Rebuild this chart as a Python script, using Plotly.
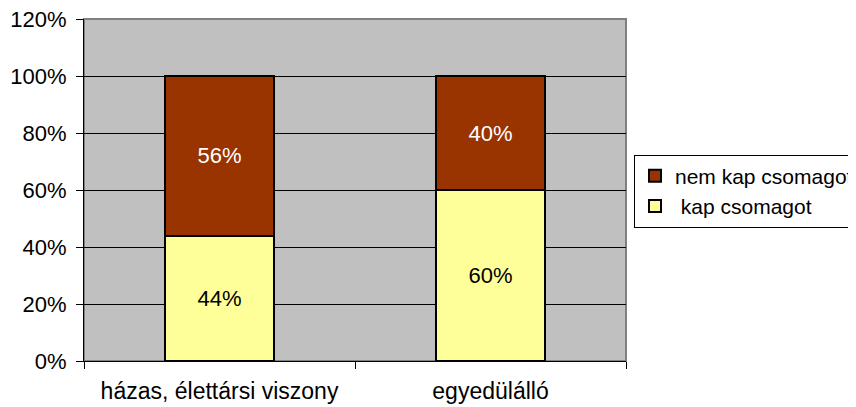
import plotly.graph_objects as go

categories = ["házas, élettársi viszony", "egyedülálló"]
kap = [44, 60]
nem_kap = [56, 40]
series_names = [" kap csomagot", "nem kap csomagot"]
y_ticks = [0, 20, 40, 60, 80, 100, 120]

FONT = "Liberation Sans"

fig = go.Figure()
fig.add_bar(x=categories, y=kap, name=series_names[0], legendrank=2,
            marker=dict(color="#FFFF99", line=dict(color="black", width=2)),
            text=[f"{v}%" for v in kap], textposition="inside",
            insidetextanchor="middle",
            textfont=dict(color="black", size=22, family=FONT))
fig.add_bar(x=categories, y=nem_kap, name=series_names[1], legendrank=1,
            marker=dict(color="#993300", line=dict(color="black", width=2)),
            text=[f"{v}%" for v in nem_kap], textposition="inside",
            insidetextanchor="middle",
            textfont=dict(color="white", size=22, family=FONT))

fig.update_layout(
    barmode="stack", bargap=0.6,
    width=856, height=407,
    margin=dict(l=76, r=238, t=11, b=54, autoexpand=False),
    paper_bgcolor="white", plot_bgcolor="#C0C0C0",
    font=dict(family=FONT, size=22, color="black"),
    legend=dict(xref="container", yref="container", x=0.7313, y=0.64,
                xanchor="left", yanchor="top",
                traceorder="normal", bordercolor="black", borderwidth=1,
                font=dict(size=21), bgcolor="white",
                itemwidth=30, tracegroupgap=0),
    uniformtext=dict(mode="show", minsize=10),
    showlegend=True,
)
fig.update_xaxes(showline=True, linecolor="black", linewidth=1,
                 ticks="outside", tickson="boundaries", ticklen=7,
                 tickcolor="black", showgrid=False, ticklabelstandoff=9,
                 tickfont=dict(size=23), automargin=False)
fig.update_yaxes(range=[0, 120], tickvals=y_ticks,
                 ticktext=[f"{v}%" for v in y_ticks],
                 showline=True, linecolor="black", linewidth=1,
                 ticks="outside", ticklen=7, tickcolor="black",
                 gridcolor="black", gridwidth=1, zeroline=False,
                 ticklabelstandoff=5, ticklabeloverflow="allow",
                 automargin=False)
fig.add_shape(type="rect", xref="paper", yref="paper", x0=0, x1=1, y0=0, y1=1,
              line=dict(color="#808080", width=2), layer="below")

fig.write_html("out.html")
